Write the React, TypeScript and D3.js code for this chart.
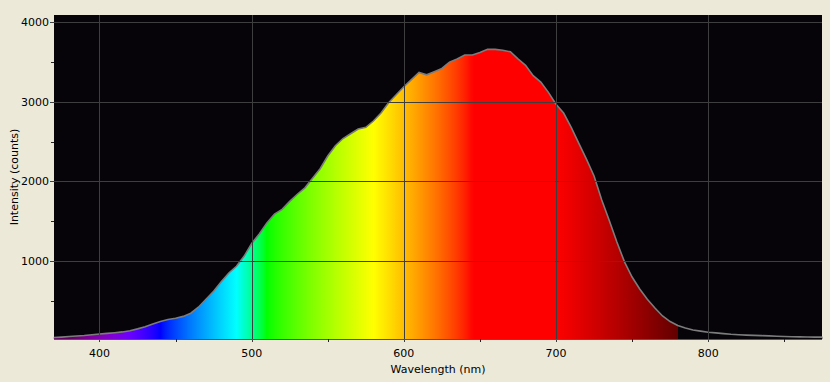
import * as d3 from "d3";
import React, { useEffect, useRef } from "react";

// spectrum, every 5 nm
const wavelengths = [
  370, 375, 380, 385, 390, 395, 400, 405, 410, 415, 420, 425, 430, 435, 440, 445, 450, 455, 460, 465,
  470, 475, 480, 485, 490, 495, 500, 505, 510, 515, 520, 525, 530, 535, 540, 545, 550, 555, 560, 565,
  570, 575, 580, 585, 590, 595, 600, 605, 610, 615, 620, 625, 630, 635, 640, 645, 650, 655, 660, 665,
  670, 675, 680, 685, 690, 695, 700, 705, 710, 715, 720, 725, 730, 735, 740, 745, 750, 755, 760, 765,
  770, 775, 780, 785, 790, 795, 800, 805, 810, 815, 820, 825, 830, 835, 840, 845, 850, 855, 860, 865,
  870, 875,
];
const counts = [
  40, 45, 52, 58, 65, 75, 83, 92, 100, 110, 125, 148, 175, 210, 240, 265, 282, 305, 345, 420,
  520, 620, 740, 850, 935, 1060, 1220, 1340, 1480, 1590, 1650, 1750, 1840, 1920, 2040, 2160, 2320, 2450, 2540, 2600,
  2660, 2680, 2760, 2860, 2990, 3090, 3190, 3280, 3370, 3340, 3380, 3420, 3500, 3540, 3590, 3590, 3620, 3660, 3660, 3650,
  3630, 3540, 3460, 3330, 3250, 3120, 2970, 2860, 2680, 2480, 2280, 2070, 1770, 1510, 1240, 990, 800, 650, 520, 410,
  310, 240, 190, 158, 135, 120, 105, 98, 88, 80, 75, 70, 66, 63, 60, 56, 53, 50, 48, 46,
  45, 44,
];

const xTicks = [400, 500, 600, 700, 800];
const xMinorTicks = [450, 550, 650, 750, 850];
const yTicks = [1000, 2000, 3000, 4000];
const yMinorTicks = [500, 1500, 2500, 3500];

// the usual wavelength -> rgb approximation, dimmed at both ends
function spectrumColor(w: number) {
  let r = 0, g = 0, b = 0;
  if (w < 440) { r = Math.min(1, (440 - w) / 60); b = 1; }
  else if (w < 490) { g = (w - 440) / 50; b = 1; }
  else if (w < 510) { g = 1; b = (510 - w) / 20; }
  else if (w < 580) { r = (w - 510) / 70; g = 1; }
  else if (w < 645) { r = 1; g = (645 - w) / 65; }
  else { r = 1; }
  let f = 1;
  if (w < 420) f = 0.3 + (0.7 * Math.max(0, w - 380)) / 40;
  else if (w > 700) f = 0.3 + (0.7 * (780 - w)) / 80;
  const c = (v: number) => Math.round(255 * Math.pow(v * f, 0.8));
  return d3.rgb(c(r), c(g), c(b)).formatHex();
}

export default function App() {
  const ref = useRef<SVGSVGElement>(null);
  const width = 830;
  const height = 382;

  useEffect(() => {
    const svg = d3.select(ref.current);
    svg.selectAll("*").remove();

    const margin = { top: 15, right: 8, bottom: 43, left: 54 };
    const plotBottom = height - margin.bottom;
    const plotRight = width - margin.right;

    const x = d3.scaleLinear([370.1, 874.8], [margin.left, plotRight]);
    const y = d3.scaleLinear([21, 4092], [plotBottom, margin.top]);

    svg.append("rect").attr("width", width).attr("height", height).attr("fill", "#ece9d8");
    svg
      .append("rect")
      .attr("x", margin.left)
      .attr("y", margin.top)
      .attr("width", plotRight - margin.left)
      .attr("height", plotBottom - margin.top)
      .attr("fill", "#060409");

    // rainbow gradient across the x range, black past 780 nm
    const grad = svg
      .append("defs")
      .append("linearGradient")
      .attr("id", "spectrum")
      .attr("gradientUnits", "userSpaceOnUse")
      .attr("x1", x(370.1))
      .attr("x2", x(874.8))
      .attr("y1", 0)
      .attr("y2", 0);
    const span = x.domain()[1] - x.domain()[0];
    for (let w = 370; w <= 780; w += 2) {
      grad
        .append("stop")
        .attr("offset", Math.max(0, (w - x.domain()[0]) / span))
        .attr("stop-color", spectrumColor(w));
    }
    grad.append("stop").attr("offset", (780 - x.domain()[0]) / span).attr("stop-color", "#060409");
    grad.append("stop").attr("offset", 1).attr("stop-color", "#060409");

    const data = wavelengths.map((w, i) => [w, counts[i]] as [number, number]);
    const area = d3
      .area<[number, number]>()
      .x((d) => x(d[0]))
      .y0(plotBottom)
      .y1((d) => y(d[1]));
    const line = d3
      .line<[number, number]>()
      .x((d) => x(d[0]))
      .y((d) => y(d[1]));

    svg.append("path").datum(data).attr("d", area).attr("fill", "url(#spectrum)");
    svg
      .append("path")
      .datum(data)
      .attr("d", line)
      .attr("fill", "none")
      .attr("stroke", "#7c7c7c")
      .attr("stroke-width", 1.6);

    // grid sits on top of the fill
    const grid = svg.append("g").attr("stroke", "#3e3e3e").attr("stroke-width", 1);
    grid
      .selectAll(".vx")
      .data(xTicks)
      .join("line")
      .attr("x1", (d) => Math.round(x(d)) + 0.5)
      .attr("x2", (d) => Math.round(x(d)) + 0.5)
      .attr("y1", margin.top)
      .attr("y2", plotBottom + 3);
    grid
      .selectAll(".hy")
      .data(yTicks)
      .join("line")
      .attr("x1", margin.left - 4)
      .attr("x2", plotRight)
      .attr("y1", (d) => Math.round(y(d)) + 0.5)
      .attr("y2", (d) => Math.round(y(d)) + 0.5);

    // axis lines and little ticks
    const axes = svg.append("g").attr("stroke", "#222").attr("stroke-width", 1);
    axes
      .append("line")
      .attr("x1", margin.left)
      .attr("x2", plotRight)
      .attr("y1", plotBottom + 0.5)
      .attr("y2", plotBottom + 0.5)
      .attr("stroke", "#555");
    axes
      .selectAll(".mx")
      .data(xMinorTicks)
      .join("line")
      .attr("x1", (d) => Math.round(x(d)) + 0.5)
      .attr("x2", (d) => Math.round(x(d)) + 0.5)
      .attr("y1", plotBottom)
      .attr("y2", plotBottom + 3);
    axes
      .selectAll(".my")
      .data(yMinorTicks)
      .join("line")
      .attr("x1", margin.left - 3)
      .attr("x2", margin.left)
      .attr("y1", (d) => Math.round(y(d)) + 0.5)
      .attr("y2", (d) => Math.round(y(d)) + 0.5);

    const labels = svg
      .append("g")
      .attr("font-family", "'DejaVu Sans', sans-serif")
      .attr("font-size", 11)
      .attr("fill", "#000");
    labels
      .selectAll(".xl")
      .data(xTicks)
      .join("text")
      .attr("x", (d) => x(d))
      .attr("y", plotBottom + 18)
      .attr("text-anchor", "middle")
      .text((d) => d);
    labels
      .selectAll(".yl")
      .data(yTicks)
      .join("text")
      .attr("x", margin.left - 5)
      .attr("y", (d) => y(d))
      .attr("dy", "0.35em")
      .attr("text-anchor", "end")
      .text((d) => d);
    labels
      .append("text")
      .attr("x", (margin.left + plotRight) / 2)
      .attr("y", plotBottom + 34)
      .attr("text-anchor", "middle")
      .text("Wavelength (nm)");
    labels
      .append("text")
      .attr("transform", `translate(18,${(margin.top + plotBottom) / 2}) rotate(-90)`)
      .attr("text-anchor", "middle")
      .text("Intensity (counts)");
  }, []);

  return (
    <svg
      ref={ref}
      width={width}
      height={height}
      style={{ position: "absolute", left: 0, top: 0, display: "block" }}
    ></svg>
  );
}
